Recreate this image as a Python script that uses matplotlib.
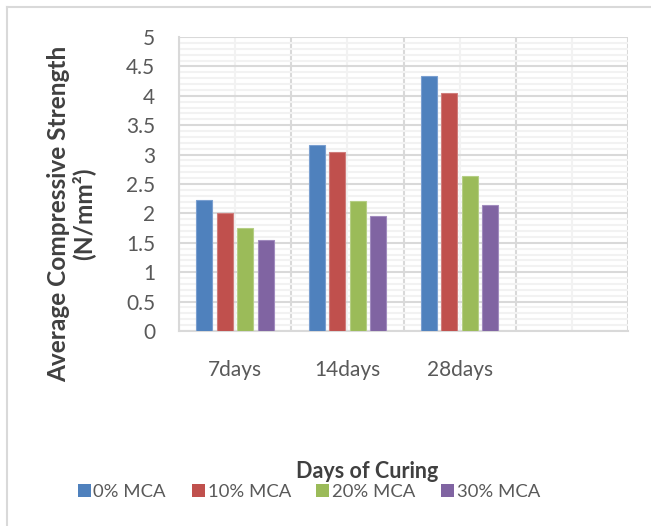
import matplotlib
matplotlib.use("Agg")
import matplotlib.pyplot as plt
from matplotlib.lines import Line2D
from matplotlib.ticker import MultipleLocator, FixedLocator, FuncFormatter
import numpy as np

categories = ["7days", "14days", "28days", ""]
series_names = ["0% MCA", "10% MCA", "20% MCA", "30% MCA"]
mca0 = [2.23, 3.17, 4.34]
mca10 = [2.00, 3.05, 4.05]
mca20 = [1.75, 2.21, 2.64]
mca30 = [1.55, 1.95, 2.14]
colors = ["#4F81BD", "#C0504D", "#9BBB59", "#8064A2"]
edges = ["#7A9FD0", "#D07D7B", "#B5CE85", "#A18BBE"]

plt.rcParams['font.family'] = ['Lato', 'DejaVu Sans']

fig = plt.figure(figsize=(6.51, 5.26), dpi=100)
ax = fig.add_axes([179/651, 1-331/526, (628-179)/651, (331-37)/526])

data = [mca0, mca10, mca20, mca30]
x = np.arange(len(mca0))
step = 0.183
width = 0.143
for i, (vals, c, e, name) in enumerate(zip(data, colors, edges, series_names)):
    ax.bar(x + (i - 1.5) * step, vals, width=width, color=c, edgecolor=e,
           linewidth=0.8, label=name, zorder=3)

ax.set_xlim(-0.5, len(categories) - 0.5)
ax.set_ylim(0, 5)
ax.yaxis.set_major_locator(MultipleLocator(0.5))
ax.yaxis.set_minor_locator(MultipleLocator(0.1))
ax.yaxis.set_major_formatter(FuncFormatter(lambda v, p: "%g" % round(v, 2)))
ax.xaxis.set_major_locator(FixedLocator(np.arange(len(categories))))
ax.xaxis.set_minor_locator(FixedLocator(np.arange(len(categories) + 1) - 0.5))
ax.set_xticklabels(categories)

ax.grid(True, which='major', axis='y', color='#D9D9D9', linewidth=1.5, zorder=0)
ax.grid(True, which='minor', axis='y', color='#F2F2F2', linewidth=1.5, zorder=0)
ax.grid(True, which='minor', axis='x', color='#D9D9D9', linewidth=1.5, zorder=0)
ax.grid(True, which='major', axis='x', color='#F2F2F2', linewidth=1.5, zorder=0)
ax.set_axisbelow(True)

for s in ['top', 'right']:
    ax.spines[s].set_visible(False)
for s in ['left', 'bottom']:
    ax.spines[s].set_color('#D9D9D9')
    ax.spines[s].set_linewidth(1.5)

ax.tick_params(axis='both', which='both', length=0, labelsize=15, labelcolor='#595959')
ax.tick_params(axis='x', pad=21)
ax.tick_params(axis='y', pad=17)

fig.text(71/651, 1-214/526, "Average Compressive Strength\n(N/mm²)",
         rotation=90, ha='center', va='center', multialignment='center',
         fontsize=17.6, fontweight='bold', color='#404040', linespacing=1.05)
fig.text(367/651, 1-471/526, "Days of Curing", ha='center', va='center',
         fontsize=15.5, fontweight='bold', color='#404040')

leg = fig.legend(loc='center', bbox_to_anchor=(309/651, 1-492/526), ncol=4,
                 frameon=False, fontsize=13.3, handlelength=0.70, handleheight=0.70,
                 handletextpad=0.16, columnspacing=1.39, borderaxespad=0, borderpad=0)
for t in leg.get_texts():
    t.set_color('#595959')
for h in leg.legend_handles:
    h.set_linewidth(0)

fig.add_artist(Line2D([7/651, 7/651], [0, 1-7/526], color='#D9D9D9', linewidth=1.5))
fig.add_artist(Line2D([7/651, 1], [1-7/526, 1-7/526], color='#D9D9D9', linewidth=1.5))

fig.savefig("out.png", dpi=100)
